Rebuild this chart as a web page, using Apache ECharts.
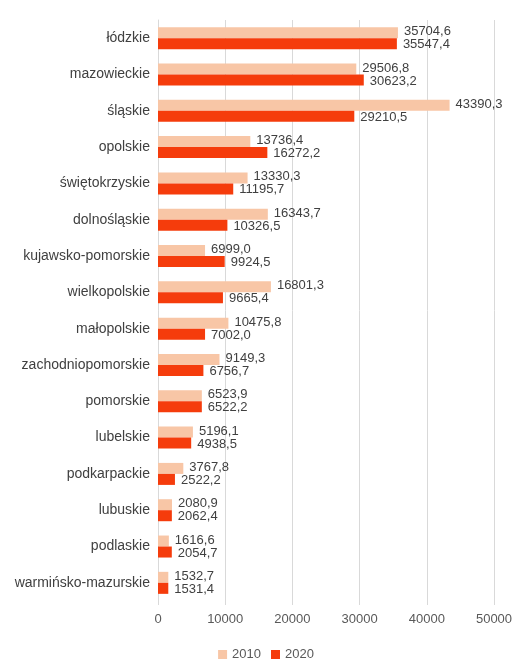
<!DOCTYPE html>
<html>
<head>
<meta charset="utf-8">
<script src="https://cdn.jsdelivr.net/npm/echarts@6/dist/echarts.min.js"></script>
<style>
  html, body { margin: 0; padding: 0; background: #fff; }
  #chart { width: 532px; height: 661px; }
</style>
</head>
<body>
<div id="chart"></div>
<script>
const regions = ["łódzkie", "mazowieckie", "śląskie", "opolskie", "świętokrzyskie", "dolnośląskie",
  "kujawsko-pomorskie", "wielkopolskie", "małopolskie", "zachodniopomorskie", "pomorskie",
  "lubelskie", "podkarpackie", "lubuskie", "podlaskie", "warmińsko-mazurskie"];
const values2010 = [35704.6, 29506.8, 43390.3, 13736.4, 13330.3, 16343.7, 6999.0, 16801.3,
  10475.8, 9149.3, 6523.9, 5196.1, 3767.8, 2080.9, 1616.6, 1532.7];
const values2020 = [35547.4, 30623.2, 29210.5, 16272.2, 11195.7, 10326.5, 9924.5, 9665.4,
  7002.0, 6756.7, 6522.2, 4938.5, 2522.2, 2062.4, 2054.7, 1531.4];
const xTicks = [0, 10000, 20000, 30000, 40000, 50000];

const chart = echarts.init(document.getElementById("chart"));
const font = "Liberation Sans, Arial, sans-serif";
const fmt = p => p.value.toFixed(1).replace(".", ",");

chart.setOption({
  animation: false,
  textStyle: { fontFamily: font },
  grid: { left: 158, right: 38, top: 20, bottom: 60 },
  legend: {
    top: 648,
    left: "center",
    padding: 0,
    itemWidth: 9,
    itemHeight: 9,
    itemGap: 10,
    icon: "rect",
    textStyle: { fontSize: 13, color: "#595959" },
    data: ["2010", "2020"]
  },
  xAxis: {
    type: "value",
    min: xTicks[0],
    max: xTicks[xTicks.length - 1],
    interval: 10000,
    axisLine: { show: false },
    axisTick: { show: true, length: 4, lineStyle: { color: "#d9d9d9" } },
    axisLabel: { color: "#595959", fontSize: 13, margin: 12, formatter: v => String(v) },
    splitLine: { lineStyle: { color: "#d9d9d9", width: 1 } }
  },
  yAxis: {
    type: "category",
    inverse: true,
    data: regions,
    axisLine: { show: true, lineStyle: { color: "#d9d9d9" } },
    axisTick: { show: false },
    axisLabel: { color: "#404040", fontSize: 14, margin: 8 }
  },
  series: [
    {
      name: "2010",
      type: "bar",
      data: values2010,
      barWidth: 11,
      barGap: "0%",
      itemStyle: { color: "#f8c6a6" },
      label: { show: true, position: "right", formatter: fmt, color: "#404040", fontSize: 13, distance: 6, offset: [0, -1] }
    },
    {
      name: "2020",
      type: "bar",
      data: values2020,
      barWidth: 11,
      itemStyle: { color: "#f53c0c" },
      label: { show: true, position: "right", formatter: fmt, color: "#404040", fontSize: 13, distance: 6, offset: [0, 1] }
    }
  ]
});
window.addEventListener("resize", function() {
  chart.resize();
});
</script>
</body>
</html>
